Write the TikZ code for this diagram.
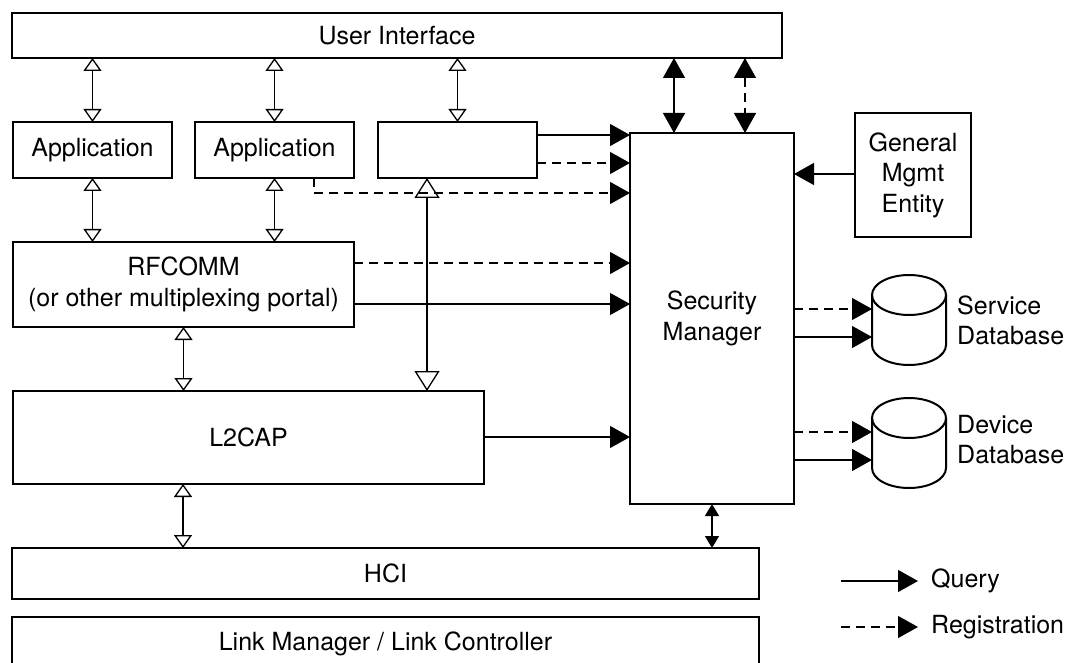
\documentclass[tikz,border=0pt]{standalone}
\usepackage{fontspec}
\setmainfont{TeX Gyre Heros}
\usetikzlibrary{arrows.meta}
\begin{document}
\begin{tikzpicture}[x=1pt,y=1pt,
 box/.style={draw, line width=2pt, inner sep=0pt, outer sep=0pt, align=center, anchor=north west, font=\fontsize{25}{30.5}\selectfont},
 conn/.style={line width=1.3pt},
 reg/.style={conn, dash pattern=on 9pt off 6pt},
 oarr/.style={conn, arrows={Triangle[open,length=13pt,width=18pt]-Triangle[open,length=13pt,width=18pt]}},
 bigoarr/.style={conn, arrows={Triangle[open,length=20pt,width=25pt]-Triangle[open,length=20pt,width=25pt]}},
 farr/.style={arrows={-Triangle[length=20pt,width=22pt]}},
 fdarr/.style={arrows={Triangle[length=20pt,width=22pt]-Triangle[length=20pt,width=22pt]}},
 sdarr/.style={conn, arrows={Triangle[length=12pt,width=14pt]-Triangle[length=12pt,width=14pt]}},
 cyl/.style={line width=2pt},
 lbl/.style={font=\fontsize{25}{30}\selectfont, inner sep=0pt, align=left, anchor=west}
]
\useasboundingbox (0,0) rectangle (1068,-663);

% boxes
\node[box, minimum width=770, minimum height=45] (ui) at (12,-13) {User Interface};
\node[box, minimum width=159, minimum height=56] (app1) at (13,-122) {Application};
\node[box, minimum width=159, minimum height=56] (app2) at (195,-122) {Application};
\node[box, minimum width=159, minimum height=56] (blank) at (378,-122) {};
\node[box, minimum width=164, minimum height=371] (sm) at (630,-133) {Security\\Manager};
\node[box, minimum width=116, minimum height=124] (gme) at (855,-113) {General\\Mgmt\\Entity};
\node[box, minimum width=341, minimum height=85] (rfcomm) at (13,-242) {RFCOMM\\(or other multiplexing portal)};
\node[box, minimum width=471, minimum height=93] (l2cap) at (13,-391) {L2CAP};
\node[box, minimum width=747, minimum height=51] (hci) at (12,-548) {HCI};
\node[box, minimum width=747, minimum height=54] (lm) at (12,-617) {Link Manager / Link Controller};

% databases
\node[inner sep=0pt, outer sep=0pt, minimum width=74, minimum height=90, anchor=north west] (sdb) at (872,-275) {};
\draw[cyl] (872,-295) -- (872,-345) arc[start angle=180,end angle=360,x radius=37,y radius=20] -- (946,-295);
\draw[cyl] (909,-295) ellipse[x radius=37,y radius=20];
\node[lbl] (sdbl) at (957,-320) {Service\\Database};

\node[inner sep=0pt, outer sep=0pt, minimum width=74, minimum height=90, anchor=north west] (ddb) at (872,-398) {};
\draw[cyl] (872,-418) -- (872,-468) arc[start angle=180,end angle=360,x radius=37,y radius=20] -- (946,-418);
\draw[cyl] (909,-418) ellipse[x radius=37,y radius=20];
\node[lbl] (ddbl) at (957,-440) {Device\\Database};

% helper coordinates
\coordinate (xa) at (183,0);
\coordinate (xb) at (427,0);
\coordinate (xc) at (674,0);
\coordinate (xd) at (745,0);
\coordinate (xe) at (314,0);
\coordinate (y135) at (0,-135);
\coordinate (y163) at (0,-163);
\coordinate (y193) at (0,-193);
\coordinate (y174) at (0,-174);
\coordinate (y263) at (0,-263);
\coordinate (y304) at (0,-304);
\coordinate (y437) at (0,-437);
\coordinate (y309) at (0,-309);
\coordinate (y337) at (0,-337);
\coordinate (y432) at (0,-432);
\coordinate (y460) at (0,-460);

% open double arrows
\draw[oarr] (ui.south -| app1.north) -- (app1.north);
\draw[oarr] (ui.south -| app2.north) -- (app2.north);
\draw[oarr] (ui.south -| blank.north) -- (blank.north);
\draw[oarr] (app1.south) -- (app1.south |- rfcomm.north);
\draw[oarr] (app2.south) -- (app2.south |- rfcomm.north);
\draw[oarr] (rfcomm.south) -- (rfcomm.south |- l2cap.north);
\draw[oarr] (xa |- l2cap.south) -- (xa |- hci.north);
\draw[bigoarr] (xb |- blank.south) -- (xb |- l2cap.north);

% UI <-> SM
\draw[conn, fdarr] (xc |- ui.south) -- (xc |- sm.north);
\draw[reg, fdarr] (xd |- ui.south) -- (xd |- sm.north);

% into SM
\draw[conn, farr] (blank.east |- y135) -- (sm.west |- y135);
\draw[reg, farr] (blank.east |- y163) -- (sm.west |- y163);
\draw[reg, farr] (xe |- app2.south) -- (xe |- y193) -- (sm.west |- y193);
\draw[reg, farr] (rfcomm.east |- y263) -- (sm.west |- y263);
\draw[conn, farr] (rfcomm.east |- y304) -- (sm.west |- y304);
\draw[conn, farr] (l2cap.east |- y437) -- (sm.west |- y437);
\draw[conn, farr] (gme.west |- y174) -- (sm.east |- y174);

% SM to databases
\draw[reg, farr] (sm.east |- y309) -- (sdb.west |- y309);
\draw[conn, farr] (sm.east |- y337) -- (sdb.west |- y337);
\draw[reg, farr] (sm.east |- y432) -- (ddb.west |- y432);
\draw[conn, farr] (sm.east |- y460) -- (ddb.west |- y460);

% SM <-> HCI
\draw[sdarr] (sm.south) -- (sm.south |- hci.north);

% legend
\coordinate (q0) at (841,-581);
\coordinate (q1) at (918,-581);
\coordinate (r0) at (841,-627);
\coordinate (r1) at (918,-627);
\draw[conn, farr] (q0) -- (q1);
\draw[reg, farr] (r0) -- (r1);
\node[lbl] (ql) at (931,-581) {Query};
\node[lbl] (rl) at (931,-627) {Registration};
\end{tikzpicture}
\end{document}
